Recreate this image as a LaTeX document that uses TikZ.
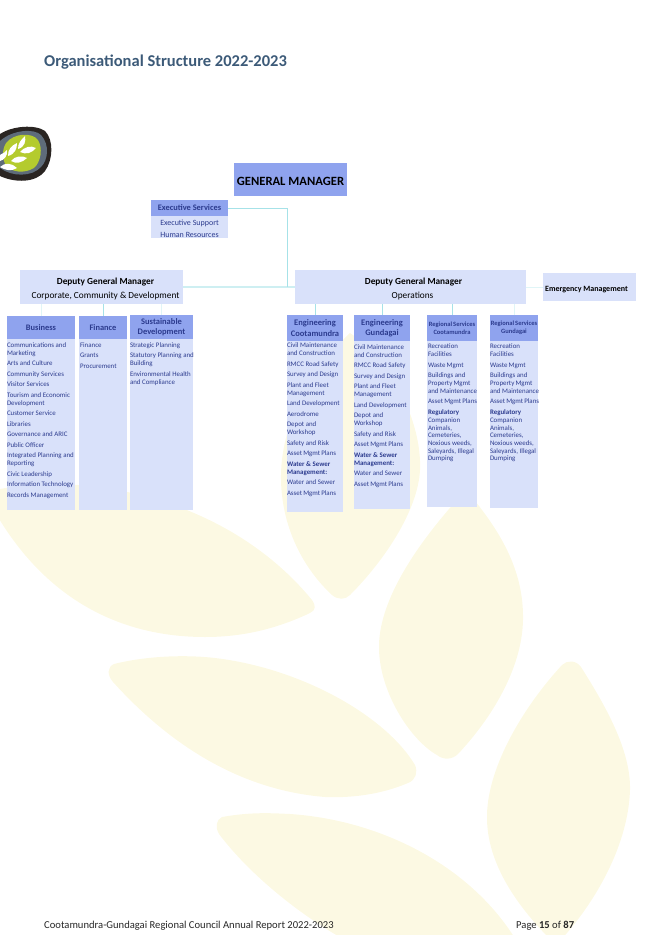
\documentclass[tikz,border=0pt]{standalone}
\usepackage{fontspec}
\setmainfont{Carlito}
\usetikzlibrary{positioning}
\definecolor{hdblue}{HTML}{8FA3EE}
\definecolor{bodyblue}{HTML}{D9E1FA}
\definecolor{inkblue}{HTML}{2C3B8E}
\definecolor{linkcyan}{HTML}{A6E2E8}
\definecolor{leafpale}{HTML}{FCF9E3}
\definecolor{titleblue}{HTML}{3C5A78}
\definecolor{logodark}{HTML}{2A2522}
\definecolor{logogrey}{HTML}{5E6C7A}
\definecolor{logogreen}{HTML}{B4CB2E}
\newcommand{\fs}[2]{\fontsize{#1}{#2}\selectfont}
\begin{document}
\begin{tikzpicture}[x=1pt,y=-1pt,%
  leaf/.style={fill=leafpale},
  box/.style={inner sep=0pt,outer sep=0pt,align=center},
  hd/.style={box,fill=hdblue,text=inkblue,font=\bfseries\fs{8.4}{9.5}},
  hdbig/.style={hd,font=\bfseries\fs{8.5}{10.5}},
  hdsmall/.style={hd,font=\bfseries\fs{6.5}{8}},
  bd/.style={box,fill=bodyblue},
  dgm/.style={bd,font=\fs{9.3}{14}},
  items/.style={box,align=left,anchor=north west,text=inkblue,font=\fs{6.9}{8}},
  link/.style={draw=linkcyan,line width=1pt},
  pale/.style={draw=linkcyan!55,line width=1.2pt},
  faint/.style={draw=linkcyan!35,line width=1pt}]
  \clip (0,0) rectangle (645,935);
  % leaves behind the chart
  \fill[leaf] (-5,490) .. controls (90,470) and (230,500) .. (312,600) .. controls (316,606) and (316,610) .. (310,613) .. controls (270,632) and (235,637) .. (205,637) .. controls (110,637) and (40,590) .. (-5,512) -- cycle;
  \fill[leaf] (350,333) .. controls (305,375) and (280,430) .. (281,480) .. controls (282,530) and (305,570) .. (332,595) .. controls (338,600) and (345,600) .. (350,595) .. controls (385,560) and (418,510) .. (420,470) .. controls (422,420) and (390,360) .. (350,333) -- cycle;
  \fill[leaf] (466,490) .. controls (415,545) and (380,600) .. (379,645) .. controls (378,690) and (410,740) .. (437,755) .. controls (443,760) and (452,760) .. (458,754) .. controls (490,720) and (522,670) .. (523,620) .. controls (524,570) and (500,530) .. (466,490) -- cycle;
  \fill[leaf] (562,665) .. controls (525,705) and (488,765) .. (487,815) .. controls (486,865) and (520,910) .. (556,945) .. controls (590,910) and (628,850) .. (630,790) .. controls (631,750) and (605,705) .. (581,667) .. controls (576,660) and (567,660) .. (562,665) -- cycle;
  \fill[leaf] (114,664) .. controls (150,655) and (190,655) .. (215,658) .. controls (300,668) and (385,715) .. (415,765) .. controls (418,772) and (416,780) .. (408,783) .. controls (380,795) and (350,798) .. (325,797) .. controls (240,790) and (170,745) .. (113,682) .. controls (107,675) and (107,667) .. (114,664) -- cycle;
  \fill[leaf] (222,817) .. controls (250,812) and (270,813) .. (290,814) .. controls (380,820) and (470,865) .. (516,940) -- (345,940) .. controls (300,915) and (250,875) .. (219,834) .. controls (215,827) and (216,820) .. (222,817) -- cycle;

  % logo
  \fill[logodark] (0,134) .. controls (12,126) and (35,124) .. (45,131) .. controls (54,140) and (53,160) .. (45,171) .. controls (36,183) and (15,183) .. (0,176) -- cycle;
  \fill[logogrey] (0,141) .. controls (12,130) and (34,128) .. (41,135) .. controls (50,145) and (48,160) .. (41,167) .. controls (32,177) and (12,177) .. (0,168) -- cycle;
  \fill[logogreen] (6,143) .. controls (14,133) and (32,132) .. (38,140) .. controls (43,148) and (41,162) .. (34,168) .. controls (24,174) and (12,172) .. (6,166) .. controls (2,158) and (2,150) .. (6,143) -- cycle;
  \fill[white] (18,149) .. controls (18,143) and (21,140) .. (25,136) .. controls (26,141) and (25,147) .. (18,149)
    (8,156) .. controls (8,149) and (11,146) .. (17,143) .. controls (17,149) and (15,154) .. (8,156)
    (20,152) .. controls (24,147) and (31,145) .. (36,148) .. controls (32,153) and (26,155) .. (20,152)
    (11,161) .. controls (15,156) and (22,155) .. (27,158) .. controls (22,163) and (16,164) .. (11,161)
    (0,155) .. controls (3,153) and (6,152) .. (7,150) .. controls (8,156) and (4,160) .. (0,161)
    (0,167) .. controls (5,162) and (12,163) .. (17,168) .. controls (11,172) and (5,170) .. (0,167);

  \node[anchor=west,inner sep=0pt,text=titleblue,font=\bfseries\fs{16.5}{18}] (title) at (44,62) {Organisational Structure 2022-2023};

  \node[box,anchor=north west,fill=hdblue,minimum width=113pt,minimum height=33pt,text height=12pt,text depth=0pt,font=\bfseries\fs{12.6}{14}] (gm) at (234,163) {GENERAL MANAGER};

  \node[hd,anchor=north west,minimum width=77pt,minimum height=16pt] (exec) at (151,200) {Executive Services};
  \node[bd,minimum width=77pt,minimum height=22pt,below=0pt of exec,text=inkblue,font=\fs{8}{12.5}] (execB) {\rule{0pt}{9pt}Executive Support\\Human Resources};

  \node[dgm,anchor=north west,minimum width=163pt,minimum height=34pt] (dgmC) at (20,270) {\rule{0pt}{11pt}\hspace*{8pt}\textbf{Deputy General Manager}\\\hspace*{8pt}Corporate, Community \& Development};
  \node[dgm,anchor=north west,minimum width=231pt,minimum height=34pt] (dgmO) at (295,270) {\rule{0pt}{11pt}\hspace*{6pt}\textbf{Deputy General Manager}\\\hspace*{4pt}Operations};
  \node[bd,anchor=north west,minimum width=93pt,minimum height=28pt,text height=8pt,text depth=0pt,font=\bfseries\fs{8}{10}] (emerg) at (543,273) {Emergency Management\hspace*{6pt}};

  % corporate columns
  \node[hd,anchor=north west,minimum width=68pt,minimum height=23pt] (biz) at (7,316) {Business};
  \node[bd,minimum width=68pt,minimum height=171pt,below=0pt of biz] (bizB) {};
  \node[items] (bizT) at ([yshift=-3.5pt]bizB.north west) {Communications and\\Marketing\\[2.5pt]Arts and Culture\\[2.5pt]Community Services\\[2.5pt]Visitor Services\\[2.5pt]Tourism and Economic\\Development\\[2.5pt]Customer Service\\[2.5pt]Libraries\\[2.5pt]Governance and ARIC\\[2.5pt]Public Officer\\[2.5pt]Integrated Planning and\\Reporting\\[2.5pt]Civic Leadership\\[2.5pt]Information Technology\\[2.5pt]Records Management};

  \node[hd,anchor=north west,minimum width=48pt,minimum height=23pt] (fin) at (79,316) {Finance};
  \node[bd,minimum width=48pt,minimum height=171pt,below=0pt of fin] (finB) {};
  \node[items] (finT) at ([xshift=1pt,yshift=-3.5pt]finB.north west) {Finance\\[2.5pt]Grants\\[2.5pt]Procurement};

  \node[hdbig,anchor=north west,minimum width=63pt,minimum height=24pt] (sus) at (130,315) {Sustainable\\Development};
  \node[bd,minimum width=63pt,minimum height=171pt,below=0pt of sus] (susB) {};
  \node[items] (susT) at ([yshift=-3.5pt]susB.north west) {Strategic Planning\\[2.5pt]Statutory Planning and\\Building\\[2.5pt]Environmental Health\\and Compliance};

  % operations columns
  \node[hdbig,anchor=north west,minimum width=56pt,minimum height=26pt] (ec) at (287,315) {Engineering\\Cootamundra};
  \node[bd,minimum width=56pt,minimum height=171pt,below=0pt of ec] (ecB) {};
  \node[items] (ecT) at ([yshift=-2pt]ecB.north west) {Civil Maintenance\\and Construction\\[2.5pt]RMCC Road Safety\\[2.5pt]Survey and Design\\[2.5pt]Plant and Fleet\\Management\\[2.5pt]Land Development\\[2.5pt]Aerodrome\\[2.5pt]Depot and\\Workshop\\[2.5pt]Safety and Risk\\[2.5pt]Asset\,Mgmt\,Plans\\[2.5pt]\textbf{Water \& Sewer}\\\textbf{Management:}\\[2.5pt]Water and Sewer\\[2.5pt]Asset\,Mgmt\,Plans};

  \node[hdbig,anchor=north west,minimum width=56pt,minimum height=26pt] (eg) at (354,315) {Engineering\\Gundagai};
  \node[bd,minimum width=56pt,minimum height=168pt,below=0pt of eg] (egB) {};
  \node[items] (egT) at ([yshift=-3.5pt]egB.north west) {Civil Maintenance\\and Construction\\[2.5pt]RMCC Road Safety\\[2.5pt]Survey and Design\\[2.5pt]Plant and Fleet\\Management\\[2.5pt]Land Development\\[2.5pt]Depot and\\Workshop\\[2.5pt]Safety and Risk\\[2.5pt]Asset\,Mgmt\,Plans\\[2.5pt]\textbf{Water \& Sewer}\\\textbf{Management:}\\[2.5pt]Water and Sewer\\[2.5pt]Asset\,Mgmt\,Plans};

  \node[hdsmall,anchor=north west,minimum width=50pt,minimum height=26pt] (rc) at (427,315) {Regional\,Services\\Cootamundra};
  \node[bd,minimum width=50pt,minimum height=166pt,below=0pt of rc] (rcB) {};
  \node[items,font=\fs{6.9}{7.7}] (rcT) at ([xshift=1pt,yshift=-3pt]rcB.north west) {Recreation\\Facilities\\[3pt]Waste\,Mgmt\\[3pt]Buildings and\\Property\,Mgmt\\and Maintenance\\[3pt]Asset\,Mgmt\,Plans\\[3pt]\textbf{Regulatory}\\Companion\\Animals,\\Cemeteries,\\Noxious weeds,\\Saleyards, Illegal\\Dumping};

  \node[hdsmall,anchor=north west,minimum width=48pt,minimum height=26pt] (rg) at (490,315) {Regional\,Services\\Gundagai};
  \node[bd,minimum width=48pt,minimum height=167pt,below=0pt of rg] (rgB) {};
  \node[items,font=\fs{6.9}{7.7}] (rgT) at ([yshift=-3pt]rgB.north west) {Recreation\\Facilities\\[3pt]Waste\,Mgmt\\[3pt]Buildings and\\Property\,Mgmt\\and Maintenance\\[3pt]Asset\,Mgmt\,Plans\\[3pt]\textbf{Regulatory}\\Companion\\Animals,\\Cemeteries,\\Noxious weeds,\\Saleyards, Illegal\\Dumping};

  % connectors
  \coordinate (jn) at (287,287);
  \draw[pale] (dgmC.east) -- (dgmO.west);
  \draw[link] (exec.east) -| (jn);
  \draw[faint] (dgmO.east) -- (emerg.west);
  \draw[link] (fin.north) -- (fin.north |- dgmC.south);
  \draw[faint] (biz.north) -- (biz.north |- dgmC.south);
  \draw[faint] (sus.north) -- (sus.north |- dgmC.south);
  \draw[link] (ec.north) -- (ec.north |- dgmO.south);
  \draw[link] (eg.north) -- (eg.north |- dgmO.south);
  \draw[link] (rc.north) -- (rc.north |- dgmO.south);
  \draw[faint] (rg.north) -- (rg.north |- dgmO.south);

  \node[anchor=west,inner sep=0pt,text=black!85,font=\fs{10.6}{12}] (foot) at (44,926) {Cootamundra-Gundagai Regional Council Annual Report 2022-2023};
  \node[anchor=west,inner sep=0pt,text=black!85,font=\fs{10.6}{12}] (page) at (516,926) {Page \textbf{15} of \textbf{87}};
\end{tikzpicture}
\end{document}
